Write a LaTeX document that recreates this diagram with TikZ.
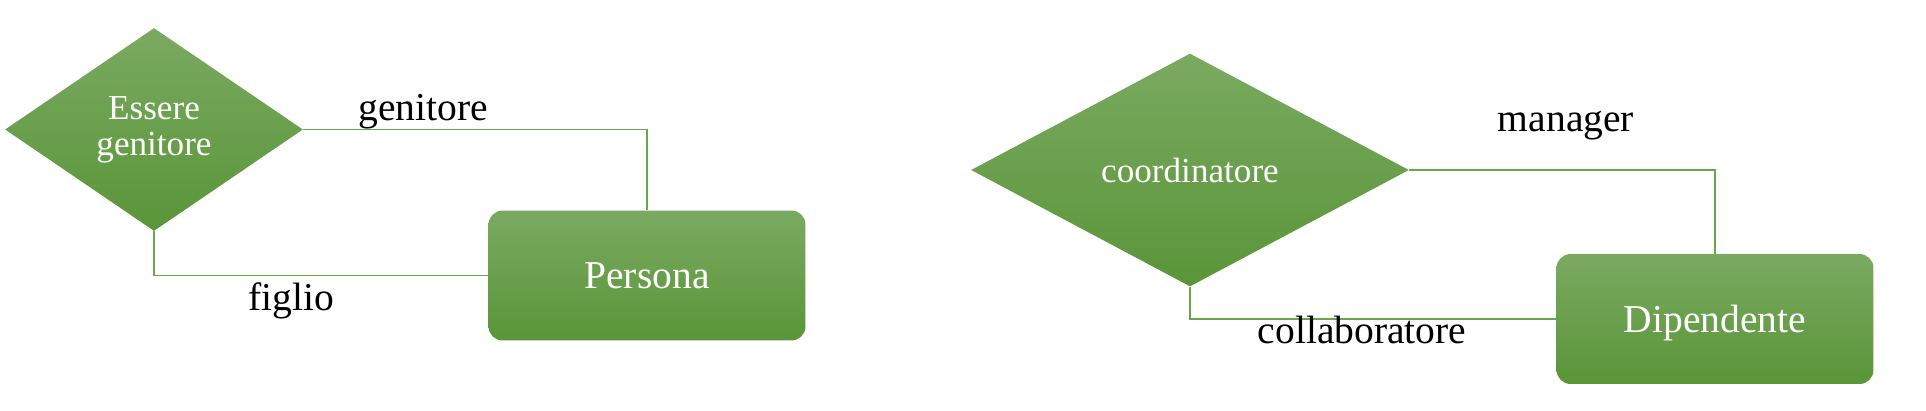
\documentclass[tikz,border=0pt]{standalone}
\usepackage{fontspec}
\setmainfont{Liberation Serif}
\usepackage{tikz}
\usetikzlibrary{positioning,shapes.geometric}
\definecolor{erlight}{RGB}{122,170,97}
\definecolor{erdark}{RGB}{90,149,56}
\definecolor{erline}{RGB}{106,165,76}
\tikzset{rel node/.style={diamond,top color=erlight,bottom color=erdark,text=white,inner sep=0pt,align=center,font=\fontsize{20}{20.5}\selectfont},
            ent node/.style={rectangle,rounded corners=0.28cm,top color=erlight,bottom color=erdark,text=white,inner sep=0pt,text depth=0pt,minimum width=6.34cm,minimum height=2.6cm,font=\fontsize{22.5}{24}\selectfont},
            role/.style={anchor=base,font=\fontsize{22.5}{24}\selectfont},
            link/.style={draw=erline,line width=1.1pt},
            }

\begin{document}
\begin{tikzpicture}[x=0.02cm,y=-0.02cm]
    \useasboundingbox (0,0) rectangle (1926,410);

    \node[rel node,minimum width=5.96cm,minimum height=4.06cm] (eg) at (154,129.5) {Essere\\genitore};
    \node[ent node] (persona) at (647,275.5) {Persona};
    \node[rel node,minimum width=8.76cm,minimum height=4.66cm] (coord) at (1190,170) {coordinatore};
    \node[ent node] (dip) at (1715,319) {Dipendente};

    \path[link]
    (eg.east) -| (persona.north)
    (eg.south) |- (persona.west)
    (coord.east) -| (dip.north)
    (coord.south) |- (dip.west);

    \node[role] (gen) at (423,120) {genitore};
    \node[role] (fig) at (291,310) {figlio};
    \node[role] (man) at (1566,131) {manager};
    \node[role] (coll) at (1362,343) {collaboratore};
\end{tikzpicture}
\end{document}
